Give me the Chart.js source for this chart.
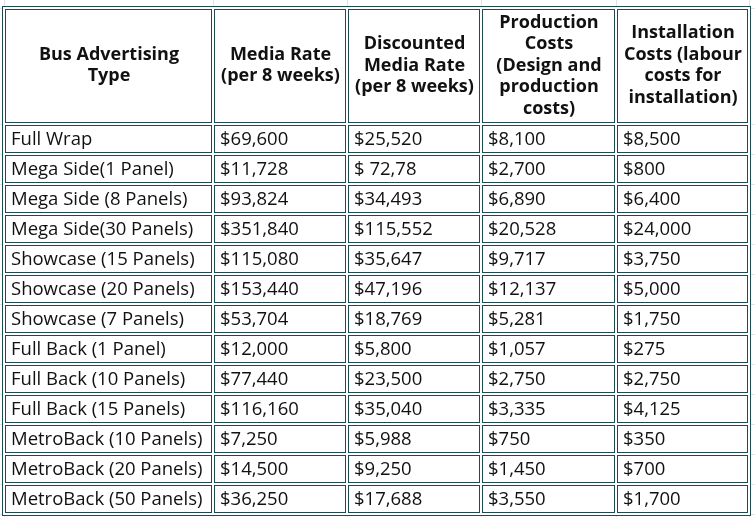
<!DOCTYPE html>
<html>
<head>
<meta charset="utf-8">
<script src="https://cdn.jsdelivr.net/npm/chart.js@4.4.1/dist/chart.umd.min.js"></script>
<style>
  html, body { margin: 0; padding: 0; background: #fff; }
  canvas { display: block; }
</style>
</head>
<body>
<canvas id="table" width="755" height="517"></canvas>
<script>
// table content
const headers = [
  ['Bus Advertising', 'Type'],
  ['Media Rate', '(per 8 weeks)'],
  ['Discounted', 'Media Rate', '(per 8 weeks)'],
  ['Production', 'Costs', '(Design and', 'production', 'costs)'],
  ['Installation', 'Costs (labour', 'costs for', 'installation)']
];
const adTypes = [
  'Full Wrap', 'Mega Side(1 Panel)', 'Mega Side (8 Panels)', 'Mega Side(30 Panels)',
  'Showcase (15 Panels)', 'Showcase (20 Panels)', 'Showcase (7 Panels)',
  'Full Back (1 Panel)', 'Full Back (10 Panels)', 'Full Back (15 Panels)',
  'MetroBack (10 Panels)', 'MetroBack (20 Panels)', 'MetroBack (50 Panels)'
];
const mediaRate = [
  '$69,600', '$11,728', '$93,824', '$351,840', '$115,080', '$153,440', '$53,704',
  '$12,000', '$77,440', '$116,160', '$7,250', '$14,500', '$36,250'
];
const discountedRate = [
  '$25,520', '$ 72,78', '$34,493', '$115,552', '$35,647', '$47,196', '$18,769',
  '$5,800', '$23,500', '$35,040', '$5,988', '$9,250', '$17,688'
];
const productionCosts = [
  '$8,100', '$2,700', '$6,890', '$20,528', '$9,717', '$12,137', '$5,281',
  '$1,057', '$2,750', '$3,335', '$750', '$1,450', '$3,550'
];
const installationCosts = [
  '$8,500', '$800', '$6,400', '$24,000', '$3,750', '$5,000', '$1,750',
  '$275', '$2,750', '$4,125', '$350', '$700', '$1,700'
];

const columns = [adTypes, mediaRate, discountedRate, productionCosts, installationCosts];

// layout
const colWidths = [209, 133.5, 134.5, 134.5, 133.5];
const HEADER_SPAN = 116 / 30;   // header row height in body-row units
const BORDER = '#1d4b52';
const FONT = '"Open Sans", sans-serif';

const colEdges = colWidths.reduce((acc, w) => { acc.push(acc[acc.length - 1] + w); return acc; }, [0]);

function cellBox(x0, x1, y0, y1) {
  const L = Math.round(x0 + 1), R = Math.round(x1 - 2);
  const T = Math.round(y0 + 1), B = Math.round(y1 - 2);
  return { L, R, T, B };
}

const tablePlugin = {
  id: 'tablePlugin',
  afterDraw(chart) {
    const { ctx, chartArea: a, scales: { x, y } } = chart;
    const W = chart.width, H = chart.height;
    ctx.save();

    // faint sheet gridlines behind the table
    ctx.fillStyle = '#e2e2e2';
    colEdges.forEach(v => ctx.fillRect(Math.round(x.getPixelForValue(v)), 0, 1, H));
    const rowEdges = [-HEADER_SPAN].concat(adTypes.map((_, i) => i), [adTypes.length]);
    rowEdges.forEach(v => ctx.fillRect(0, Math.round(y.getPixelForValue(v)), W, 1));

    // outer table border
    const oL = Math.round(a.left - 2), oR = Math.round(a.right + 1);
    const oT = Math.round(a.top - 2), oB = Math.round(a.bottom + 1);
    ctx.fillStyle = '#fff';
    ctx.fillRect(oL, oT, oR - oL, oB - oT);
    ctx.strokeStyle = BORDER;
    ctx.lineWidth = 1;
    ctx.strokeRect(oL + 0.5, oT + 0.5, oR - oL, oB - oT);

    // header cells
    const hy0 = y.getPixelForValue(-HEADER_SPAN), hy1 = y.getPixelForValue(0);
    headers.forEach((lines, c) => {
      const b = cellBox(x.getPixelForValue(colEdges[c]), x.getPixelForValue(colEdges[c + 1]), hy0, hy1);
      ctx.strokeRect(b.L + 0.5, b.T + 0.5, b.R - b.L, b.B - b.T);
      ctx.fillStyle = '#111';
      ctx.font = 'bold 18px ' + FONT;
      ctx.textAlign = 'center';
      ctx.textBaseline = 'middle';
      const lh = 21.5;
      const cx = (b.L + b.R) / 2 + 1;
      const cy = (b.T + b.B) / 2;
      lines.forEach((t, i) => {
        ctx.fillText(t, cx, cy + (i - (lines.length - 1) / 2) * lh);
      });
    });

    // body cells
    adTypes.forEach((_, r) => {
      const ry0 = y.getPixelForValue(r), ry1 = y.getPixelForValue(r + 1);
      columns.forEach((col, c) => {
        const b = cellBox(x.getPixelForValue(colEdges[c]), x.getPixelForValue(colEdges[c + 1]), ry0, ry1);
        ctx.strokeStyle = BORDER;
        ctx.strokeRect(b.L + 0.5, b.T + 0.5, b.R - b.L, b.B - b.T);
        ctx.fillStyle = '#111';
        ctx.font = '18.5px ' + FONT;
        ctx.textAlign = 'left';
        ctx.textBaseline = 'middle';
        ctx.fillText(col[r], b.L + 6, (b.T + b.B) / 2 + 1);
      });
    });

    ctx.restore();
  }
};

new Chart(document.getElementById('table'), {
  type: 'scatter',
  data: { datasets: [] },
  options: {
    responsive: false,
    animation: false,
    events: [],
    layout: { padding: { left: 4, right: 6, top: 8, bottom: 3 } },
    plugins: { legend: { display: false }, tooltip: { enabled: false } },
    scales: {
      x: { type: 'linear', display: false, min: 0, max: colEdges[colEdges.length - 1] },
      y: { type: 'linear', display: false, reverse: true, min: -HEADER_SPAN, max: adTypes.length }
    }
  },
  plugins: [tablePlugin]
});
</script>
</body>
</html>
